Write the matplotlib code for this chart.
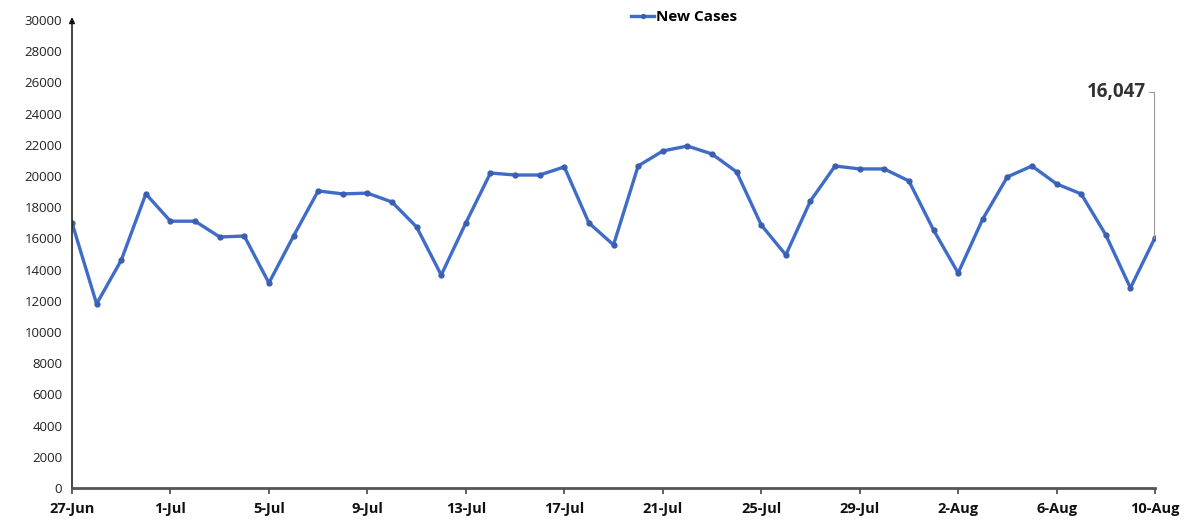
import matplotlib
matplotlib.use('Agg')
import matplotlib.pyplot as plt
import numpy as np

# daily new cases, 27-Jun .. 10-Aug
new_cases = [17000, 11800, 14600, 18850, 17100, 17100, 16090, 16150, 13140, 16150,
             19040, 18850, 18900, 18330, 16730, 13650, 16990, 20190, 20060, 20060,
             20580, 16990, 15580, 20640, 21600, 21920, 21410, 20260, 16860, 14940,
             18400, 20640, 20450, 20450, 19680, 16540, 13780, 17240, 19940, 20640,
             19490, 18850, 16220, 12820, 16047]
tick_labels = ['27-Jun', '1-Jul', '5-Jul', '9-Jul', '13-Jul', '17-Jul', '21-Jul',
               '25-Jul', '29-Jul', '2-Aug', '6-Aug', '10-Aug']
y_ticks = list(range(0, 30001, 2000))
last_label = '16,047'

plt.rcParams['font.family'] = ['Open Sans', 'DejaVu Sans']

fig = plt.figure(figsize=(11.92, 5.25), dpi=100)
ax = fig.add_axes([0.0604, 0.0705, 0.9086, 0.8915])

x = np.arange(len(new_cases))
ax.plot(x, new_cases, color='#3f6cc8', lw=2.4, marker='o', ms=3.5,
        markerfacecolor='#3a5fae', markeredgecolor='#3a5fae', label='New Cases')

ax.set_xlim(0, len(new_cases) - 1)
ax.set_ylim(0, 30000)
ax.set_yticks(y_ticks)
ax.set_yticklabels([str(v) for v in y_ticks], fontsize=9.5, color='#222222')
ax.tick_params(axis='y', length=0, pad=7)
ax.set_xticks(x[::4])
ax.set_xticklabels(tick_labels, fontsize=10.5, fontweight='bold', color='#111111')
ax.tick_params(axis='x', length=4, width=1.2, color='#444444', direction='out', pad=6)

for s in ['top', 'right']:
    ax.spines[s].set_visible(False)
ax.spines['left'].set_color('#222222')
ax.spines['left'].set_linewidth(1.2)
ax.spines['bottom'].set_color('#555555')
ax.spines['bottom'].set_linewidth(2)

# arrow at top of y axis
ax.annotate('', xy=(0, 1.012), xytext=(0, 0.99), xycoords='axes fraction',
            arrowprops=dict(arrowstyle='-|>', color='#111111', lw=1.2,
                            mutation_scale=8), annotation_clip=False)

# label for last value with leader line
xl = len(new_cases) - 1
ax.plot([xl - 0.05, xl - 0.05], [new_cases[-1], 25400], color='#999999', lw=0.8,
        clip_on=False)
ax.plot([xl - 0.05, xl - 0.25], [25400, 25400], color='#999999', lw=0.8,
        clip_on=False)
ax.text(xl - 0.35, 25400, last_label, ha='right', va='center', fontsize=13.5,
        fontweight='bold', color='#333333')

leg = ax.legend(loc='upper center', bbox_to_anchor=(0.565, 1.05), frameon=False,
                handlelength=1.5, handletextpad=0.1, markerscale=0.8,
                prop={'weight': 'bold', 'size': 11})

fig.savefig('out.png', dpi=100)
